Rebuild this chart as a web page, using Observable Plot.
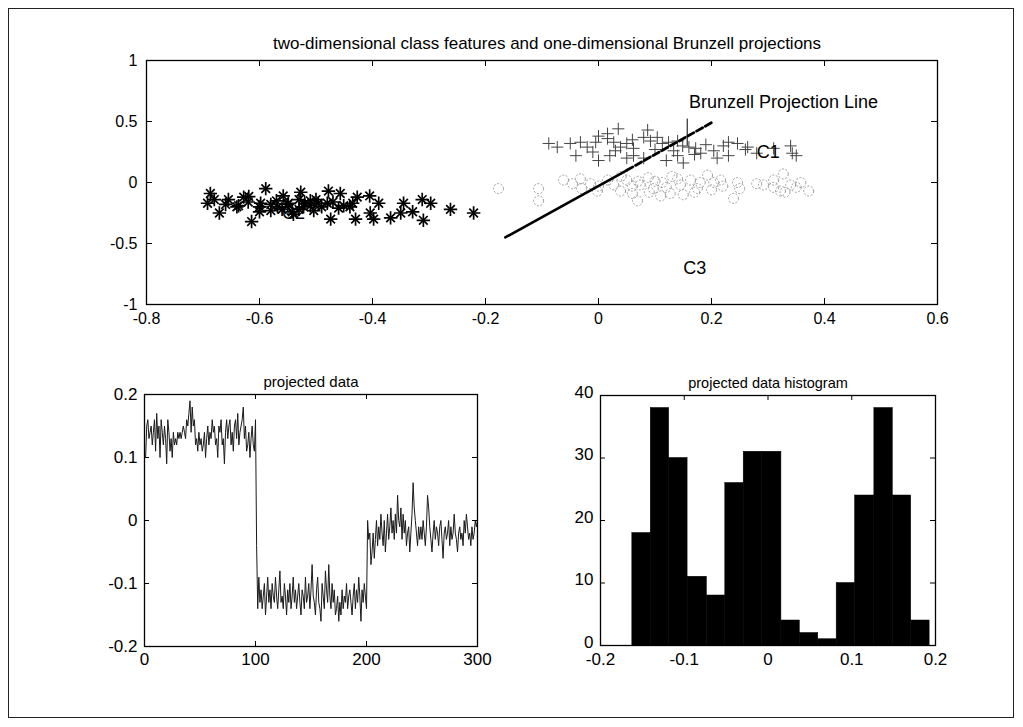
<!DOCTYPE html>
<html>
<head>
<meta charset="utf-8">
<script src="https://cdn.jsdelivr.net/npm/d3@7"></script>
<script src="https://cdn.jsdelivr.net/npm/@observablehq/plot@0.6"></script>
<style>
  html, body { margin: 0; padding: 0; background: #fff; }
  #page { position: relative; width: 1023px; height: 727px; background: #fff; overflow: hidden; }
  #border { position: absolute; left: 8px; top: 8px; width: 1006px; height: 710px; border: 1px solid #222; box-sizing: border-box; }
  .panel { position: absolute; }
  .panel svg { display: block; background: transparent; }
</style>
</head>
<body>
<div id="page"><div id="border"></div></div>
<script>
// ---------- DATA ----------
// Top panel: class C2 (asterisks)
const c2X = [-0.687,-0.692,-0.671,-0.655,-0.637,-0.628,-0.619,-0.614,-0.589,-0.598,-0.58,-0.568,-0.558,-0.549,-0.542,-0.527,-0.522,-0.51,-0.504,-0.496,-0.478,-0.48,-0.474,-0.457,-0.451,-0.435,-0.43,-0.427,-0.405,-0.404,-0.398,-0.389,-0.368,-0.35,-0.345,-0.329,-0.312,-0.31,-0.297,-0.262,-0.221,-0.62,-0.6,-0.57,-0.56,-0.55,-0.53,-0.53,-0.52,-0.51,-0.5,-0.49,-0.47,-0.46,-0.44,-0.58,-0.54,-0.6,-0.66,-0.68,-0.64];
const c2Y = [-0.09,-0.17,-0.25,-0.14,-0.19,-0.12,-0.115,-0.32,-0.05,-0.17,-0.23,-0.2,-0.11,-0.17,-0.24,-0.08,-0.2,-0.15,-0.23,-0.17,-0.07,-0.17,-0.3,-0.09,-0.19,-0.17,-0.3,-0.12,-0.11,-0.25,-0.3,-0.17,-0.29,-0.25,-0.17,-0.24,-0.14,-0.31,-0.17,-0.22,-0.25,-0.16,-0.2,-0.15,-0.22,-0.18,-0.14,-0.22,-0.17,-0.19,-0.14,-0.2,-0.16,-0.21,-0.2,-0.18,-0.26,-0.24,-0.18,-0.14,-0.2];
// class C1 (plus signs)
const c1X = [-0.088,-0.073,-0.05,-0.032,-0.02,-0.005,0.0,0.016,0.016,0.027,0.035,0.039,0.05,0.062,0.062,0.08,0.087,0.092,0.104,0.113,0.124,0.133,0.14,0.149,0.16,0.172,0.181,0.204,0.221,0.23,0.246,0.264,0.34,0.343,-0.04,0.02,0.05,0.08,0.12,0.17,0.23,0.28,0.31,0.26,0.19,0.1,0.03,-0.01,0.14,0.21,0.35,0.06,0.0,0.15];
const c1Y = [0.32,0.29,0.32,0.33,0.29,0.33,0.38,0.36,0.4,0.33,0.44,0.29,0.32,0.28,0.22,0.37,0.43,0.34,0.37,0.32,0.33,0.26,0.22,0.3,0.29,0.28,0.24,0.26,0.3,0.33,0.32,0.29,0.3,0.24,0.22,0.22,0.2,0.2,0.18,0.23,0.22,0.24,0.28,0.27,0.31,0.27,0.26,0.25,0.34,0.2,0.22,0.35,0.18,0.16];
// class C3 (circles)
const c3X = [-0.177,-0.106,-0.106,-0.062,-0.046,-0.032,-0.014,-0.002,0.016,0.027,0.039,0.05,0.06,0.069,0.074,0.088,0.097,0.113,0.127,0.14,0.145,0.163,0.175,0.193,0.204,0.216,0.239,0.246,0.292,0.31,0.322,0.327,0.34,0.358,0.372,0.06,0.09,0.12,0.15,0.18,0.2,0.22,0.1,0.04,0.0,-0.03,0.13,0.17,0.07,0.31,0.33,0.28,0.25,0.35,0.11];
const c3Y = [-0.05,-0.05,-0.15,0.02,-0.01,0.03,-0.01,-0.07,0.02,-0.02,-0.07,0.02,-0.09,-0.15,-0.02,0.04,-0.05,0.0,-0.09,0.03,-0.02,0.02,-0.05,0.06,0.0,0.02,-0.13,0.0,-0.02,0.02,-0.07,0.07,-0.02,0.0,-0.07,-0.03,-0.08,-0.04,-0.1,0.0,-0.06,-0.03,0.01,0.05,-0.03,-0.05,0.05,-0.08,0.01,-0.04,-0.08,-0.01,-0.05,-0.04,-0.11];
// Brunzell projection line (solid lower part, dashed upper part)
const projLowerX = [-0.165, 0.05];
const projLowerY = [-0.45, 0.10];
const projUpperX = [0.05, 0.20];
const projUpperY = [0.10, 0.49];
const markerRuleX = [0.157];
const markerRuleY = [0.30, 0.52];
// annotations
const labelText = ["Brunzell Projection Line", "C1", "C2", "C3"];
const labelX = [0.16, 0.28, -0.56, 0.15];
const labelY = [0.66, 0.25, -0.25, -0.70];
// top axes
const topTitle = "two-dimensional class features and one-dimensional Brunzell projections";
const topXTicks = [-0.8, -0.6, -0.4, -0.2, 0, 0.2, 0.4, 0.6];
const topYTicks = [-1, -0.5, 0, 0.5, 1];

// Bottom-left: projected data (samples 1..300)
const projSeg1 = [0.10,0.15,0.16,0.13,0.14,0.15,0.12,0.14,0.16,0.11,
0.17,0.13,0.15,0.10,0.16,0.14,0.12,0.15,0.13,0.09,
0.16,0.14,0.11,0.13,0.10,0.14,0.12,0.13,0.12,0.14,
0.13,0.14,0.13,0.14,0.15,0.14,0.13,0.16,0.15,0.17,
0.19,0.14,0.18,0.15,0.16,0.12,0.13,0.11,0.14,0.12,
0.13,0.11,0.12,0.14,0.10,0.13,0.15,0.12,0.14,0.13,
0.16,0.14,0.15,0.12,0.13,0.10,0.15,0.14,0.16,0.12,
0.13,0.09,0.14,0.16,0.13,0.15,0.16,0.12,0.14,0.11,
0.15,0.16,0.13,0.17,0.12,0.14,0.15,0.16,0.18,0.13,
0.15,0.11,0.12,0.14,0.10,0.13,0.15,0.12,0.11,0.16];
const projSeg2 = [-0.04,-0.14,-0.09,-0.13,-0.11,-0.14,-0.12,-0.10,-0.15,-0.12,
-0.09,-0.13,-0.11,-0.14,-0.10,-0.12,-0.13,-0.09,-0.12,-0.14,
-0.11,-0.08,-0.13,-0.12,-0.14,-0.10,-0.12,-0.15,-0.11,-0.13,
-0.10,-0.14,-0.12,-0.09,-0.13,-0.11,-0.14,-0.12,-0.10,-0.13,
-0.15,-0.11,-0.12,-0.14,-0.09,-0.13,-0.12,-0.10,-0.14,-0.11,
-0.07,-0.12,-0.13,-0.15,-0.11,-0.09,-0.13,-0.14,-0.16,-0.10,
-0.12,-0.14,-0.08,-0.11,-0.13,-0.07,-0.12,-0.14,-0.10,-0.13,
-0.11,-0.15,-0.14,-0.12,-0.16,-0.13,-0.15,-0.11,-0.14,-0.12,
-0.13,-0.10,-0.14,-0.12,-0.11,-0.13,-0.15,-0.12,-0.10,-0.14,
-0.11,-0.13,-0.09,-0.12,-0.16,-0.11,-0.13,-0.10,-0.12,-0.14];
const projSeg3 = [0.00,-0.03,-0.02,-0.07,-0.05,-0.02,-0.06,-0.03,0.00,-0.04,
-0.01,-0.03,0.01,-0.02,-0.04,0.00,-0.05,-0.02,0.01,-0.03,
-0.01,0.02,-0.02,0.00,-0.03,0.01,-0.02,0.04,0.00,-0.01,
0.02,-0.03,0.01,-0.02,0.00,-0.04,-0.02,-0.01,-0.05,-0.02,
0.01,0.06,0.02,0.00,-0.02,-0.04,-0.01,-0.03,-0.01,-0.03,
0.00,-0.02,-0.04,-0.01,0.04,0.02,-0.01,-0.03,-0.05,-0.02,
0.00,-0.03,-0.01,-0.02,-0.04,-0.01,0.00,-0.03,-0.06,-0.02,
-0.01,-0.03,-0.02,0.00,-0.04,-0.01,-0.03,-0.02,0.01,-0.02,
-0.03,-0.05,-0.02,-0.01,-0.03,-0.02,-0.04,0.00,-0.02,0.01,
-0.01,-0.03,-0.02,-0.04,-0.01,-0.03,-0.02,0.00,-0.01,0.00];
const lineTitle = "projected data";
const lineXTicks = [0, 100, 200, 300];
const lineYTicks = [-0.2, -0.1, 0, 0.1, 0.2];

// Bottom-right: histogram of projected data
const histEdges = [-0.162,-0.140,-0.118,-0.096,-0.073,-0.051,-0.029,-0.007,0.016,0.038,0.060,0.082,0.104,0.127,0.149,0.171,0.193];
const histCounts = [18,38,30,11,8,26,31,31,4,2,1,10,24,38,24,4];
const histTitle = "projected data histogram";
const histXTicks = [-0.2, -0.1, 0, 0.1, 0.2];
const histYTicks = [0, 10, 20, 30, 40];

// ---------- BUILD ----------
const FONT = '"Liberation Sans", Arial, Helvetica, sans-serif';
const fmt = d => String(d);

function zip(xs, ys) { return xs.map((x, i) => ({x, y: ys[i]})); }

function boxTicks(xt, yt, W, H, len) {
  return [
    Plot.tickX(xt, {x: d => d, insetTop: H - len, stroke: "#000"}),
    Plot.tickX(xt, {x: d => d, insetBottom: H - len, stroke: "#000"}),
    Plot.tickY(yt, {y: d => d, insetRight: W - len, stroke: "#000"}),
    Plot.tickY(yt, {y: d => d, insetLeft: W - len, stroke: "#000"})
  ];
}

function place(svg, left, top) {
  const div = document.createElement("div");
  div.className = "panel";
  div.style.left = left + "px";
  div.style.top = top + "px";
  div.appendChild(svg);
  document.getElementById("page").appendChild(div);
}

// Top panel
{
  const width = 1023, height = 340;
  const mL = 146, mR = 86, mT = 60, mB = 36;
  const W = width - mL - mR, H = height - mT - mB;
  const c2 = zip(c2X, c2Y), c1 = zip(c1X, c1Y), c3 = zip(c3X, c3Y);
  const labels = labelText.map((t, i) => ({t, x: labelX[i], y: labelY[i]}));
  const svg = Plot.plot({
    width, height, marginLeft: mL, marginRight: mR, marginTop: mT, marginBottom: mB,
    style: {fontFamily: FONT, fontSize: "16px", color: "#000", background: "transparent", overflow: "visible"},
    x: {domain: [-0.8, 0.6], axis: null, label: null},
    y: {domain: [-1, 1], axis: null, label: null},
    marks: [
      Plot.dot(c3, {x: "x", y: "y", symbol: "circle", r: 5, stroke: "#999", strokeWidth: 1, strokeDasharray: "2,1.6", fill: "none"}),
      Plot.dot(c1, {x: "x", y: "y", symbol: "plus", r: 4, stroke: "#444", strokeWidth: 1}),
      Plot.dot(c2, {x: "x", y: "y", symbol: "plus", r: 4.4, stroke: "#000", strokeWidth: 1.7}),
      Plot.dot(c2, {x: "x", y: "y", symbol: "times", r: 4, stroke: "#000", strokeWidth: 1.7}),
      Plot.line(zip(projLowerX, projLowerY), {x: "x", y: "y", stroke: "#000", strokeWidth: 2.6}),
      Plot.line(zip(projUpperX, projUpperY), {x: "x", y: "y", stroke: "#000", strokeWidth: 2.8, strokeDasharray: "7,3"}),
      Plot.ruleX(markerRuleX, {x: d => d, y1: markerRuleY[0], y2: markerRuleY[1], stroke: "#000", strokeWidth: 1}),
      Plot.text(labels, {x: "x", y: "y", text: "t", textAnchor: "start", fontSize: 18, fill: "#000"}),
      Plot.frame({stroke: "#000", strokeWidth: 1.3}),
      ...boxTicks(topXTicks, topYTicks, W, H, 6),
      Plot.axisX(topXTicks, {tickSize: 0, tickPadding: 8, tickFormat: fmt, fontSize: 16}),
      Plot.axisY(topYTicks, {tickSize: 0, tickPadding: 9, tickFormat: fmt, fontSize: 16}),
      Plot.text([topTitle], {frameAnchor: "top", dx: 5, dy: -17, text: d => d, fontSize: 17, lineAnchor: "middle", fill: "#000"})
    ]
  });
  place(svg, 0, 0);
}

// Bottom-left panel: line
{
  const width = 540, height = 310;
  const mL = 144, mR = 63, mT = 34, mB = 24;
  const W = width - mL - mR, H = height - mT - mB;
  const values = projSeg1.concat(projSeg2, projSeg3);
  const pts = values.map((v, i) => ({x: i + 1, y: v}));
  const svg = Plot.plot({
    width, height, marginLeft: mL, marginRight: mR, marginTop: mT, marginBottom: mB,
    style: {fontFamily: FONT, fontSize: "17px", color: "#000", background: "transparent", overflow: "visible"},
    x: {domain: [0, 300], axis: null, label: null},
    y: {domain: [-0.2, 0.2], axis: null, label: null},
    marks: [
      Plot.line(pts, {x: "x", y: "y", stroke: "#1a1a1a", strokeWidth: 1}),
      Plot.frame({stroke: "#000", strokeWidth: 1.3}),
      ...boxTicks(lineXTicks, lineYTicks, W, H, 5),
      Plot.axisX(lineXTicks, {tickSize: 0, tickPadding: 6, tickFormat: fmt, fontSize: 17}),
      Plot.axisY(lineYTicks, {tickSize: 0, tickPadding: 7, tickFormat: fmt, fontSize: 17}),
      Plot.text([lineTitle], {frameAnchor: "top", dy: -12, text: d => d, fontSize: 15, lineAnchor: "middle", fill: "#000"})
    ]
  });
  place(svg, 0, 360);
}

// Bottom-right panel: histogram
{
  const width = 483, height = 310;
  const mL = 60, mR = 88, mT = 35, mB = 25;
  const W = width - mL - mR, H = height - mT - mB;
  const bins = histCounts.map((c, i) => ({x1: histEdges[i], x2: histEdges[i + 1], y: c}));
  const svg = Plot.plot({
    width, height, marginLeft: mL, marginRight: mR, marginTop: mT, marginBottom: mB,
    style: {fontFamily: FONT, fontSize: "17px", color: "#000", background: "transparent", overflow: "visible"},
    x: {domain: [-0.2, 0.2], axis: null, label: null},
    y: {domain: [0, 40], axis: null, label: null},
    marks: [
      Plot.rectY(bins, {x1: "x1", x2: "x2", y: "y", fill: "#000", stroke: "#000", strokeWidth: 0.5, inset: 0}),
      Plot.frame({stroke: "#000", strokeWidth: 1.3}),
      ...boxTicks(histXTicks, histYTicks, W, H, 5),
      Plot.axisX(histXTicks, {tickSize: 0, tickPadding: 7, tickFormat: fmt, fontSize: 17}),
      Plot.axisY(histYTicks, {tickSize: 0, tickPadding: 7, tickFormat: fmt, fontSize: 17, dy: -3}),
      Plot.text([histTitle], {frameAnchor: "top", dy: -12, text: d => d, fontSize: 14.5, lineAnchor: "middle", fill: "#000"})
    ]
  });
  place(svg, 540, 360);
}
</script>
</body>
</html>
